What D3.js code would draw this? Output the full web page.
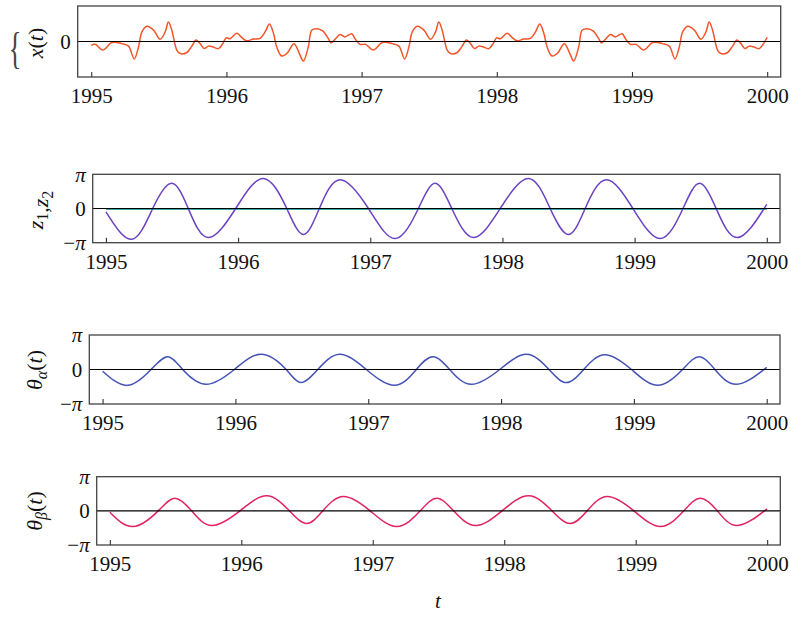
<!DOCTYPE html>
<html><head><meta charset="utf-8">
<script src="https://cdn.jsdelivr.net/npm/d3@7"></script>
<style>
body{margin:0;background:#fff}
svg{display:block}
</style>
</head><body>
<svg id="c" width="790" height="617" font-family="Liberation Serif"></svg>
<script>
// ---------- data ----------
const years = [1995, 1996, 1997, 1998, 1999, 2000];
const piTicks = [-1, 0, 1];          // in units of pi
const piTickLabels = ["−π", "0", "π"];

// x(t) signal
const xT = [
 1995.000,1995.030,1995.086,1995.153,1995.227,1995.276,1995.318,1995.350,1995.375,1995.412,1995.461,1995.510,1995.547,1995.571,1995.596,1995.633,1995.658,1995.707,1995.744,1995.776,1995.806,1995.835,1995.867,1995.897,1995.941,1995.973,1995.998,1996.027,1996.077,1996.114,1996.151,1996.200,1996.249,1996.286,1996.318,1996.348,1996.372,1996.409,1996.451,1996.500,1996.540,1996.569,1996.606,1996.631,1996.668,1996.712,1996.754,1996.774,1996.803,1996.840,1996.877,1996.927,1996.951,1996.988,
 1997.030,1997.086,1997.153,1997.227,1997.276,1997.318,1997.350,1997.375,1997.412,1997.461,1997.510,1997.547,1997.571,1997.596,1997.633,1997.658,1997.707,1997.744,1997.776,1997.806,1997.835,1997.867,1997.897,1997.941,1997.973,1997.998,1998.027,1998.077,1998.114,1998.151,1998.200,1998.249,1998.286,1998.318,1998.348,1998.372,1998.409,1998.451,1998.500,1998.540,1998.569,1998.606,1998.631,1998.668,1998.712,1998.754,1998.774,1998.803,1998.840,1998.877,1998.927,1998.951,1998.988,
 1999.030,1999.086,1999.153,1999.227,1999.276,1999.318,1999.350,1999.375,1999.412,1999.461,1999.510,1999.547,1999.571,1999.596,1999.633,1999.658,1999.707,1999.744,1999.776,1999.806,1999.835,1999.867,1999.897,1999.941,1999.973,2000.000
];
const xV = [
 -0.11,-0.08,-0.24,-0.03,-0.06,-0.13,-0.49,-0.15,0.27,0.43,0.32,0.06,0.27,0.55,0.32,-0.24,-0.34,-0.31,-0.13,0.04,-0.06,-0.20,-0.13,-0.15,-0.20,-0.06,0.10,0.08,0.23,0.11,0.02,0.07,0.09,0.27,0.49,0.23,-0.15,-0.41,-0.32,-0.06,-0.34,-0.55,-0.15,0.32,0.36,0.30,0.08,-0.04,0.06,0.20,0.13,0.22,0.08,-0.08,
 -0.08,-0.24,-0.03,-0.06,-0.13,-0.49,-0.15,0.27,0.43,0.32,0.06,0.27,0.55,0.32,-0.24,-0.34,-0.31,-0.13,0.04,-0.06,-0.20,-0.13,-0.15,-0.20,-0.06,0.10,0.08,0.23,0.11,0.02,0.07,0.09,0.27,0.49,0.23,-0.15,-0.41,-0.32,-0.06,-0.34,-0.55,-0.15,0.32,0.36,0.30,0.08,-0.04,0.06,0.20,0.13,0.22,0.08,-0.08,
 -0.08,-0.24,-0.03,-0.06,-0.13,-0.49,-0.15,0.27,0.43,0.32,0.06,0.27,0.55,0.32,-0.24,-0.34,-0.31,-0.13,0.04,-0.06,-0.20,-0.13,-0.15,-0.20,-0.06,0.12
];

// z1 (units of pi)
const zT = [1995.000,1995.195,1995.354,1995.497,1995.623,1995.774,1995.982,1996.191,1996.368,1996.494,1996.615,1996.771,1996.986,1997.188,1997.364,1997.491,1997.617,1997.780,1997.983,1998.197,1998.361,1998.500,1998.626,1998.785,1998.987,1999.194,1999.366,1999.491,1999.617,1999.778,2000.000];
const z1V = [-0.10,-0.90,0,0.735,0,-0.85,0,0.88,0,-0.76,0,0.84,0,-0.88,0,0.735,0,-0.85,0,0.88,0,-0.76,0,0.84,0,-0.88,0,0.735,0,-0.85,0.12];
// z2 (units of pi)
const z2T = [1995, 1996, 1997, 1998, 1999, 2000];
const z2V = [-0.025,-0.025,-0.025,-0.025,-0.025,-0.025];

// theta_alpha (units of pi)
const aT = [1995.000,1995.188,1995.365,1995.490,1995.603,1995.779,1995.992,1996.194,1996.382,1996.495,1996.620,1996.784,1996.985,1997.198,1997.362,1997.487,1997.613,1997.776,1997.990,1998.191,1998.361,1998.492,1998.622,1998.781,1998.982,1999.182,1999.366,1999.491,1999.610,1999.773,2000.000];
const aV = [-0.05,-0.46,0,0.37,0,-0.43,0,0.44,0,-0.38,0,0.44,0,-0.46,0,0.37,0,-0.43,0,0.44,0,-0.38,0,0.43,0,-0.46,0,0.37,0,-0.43,0.06];

// theta_beta (units of pi)
const bT = [1995.000,1995.177,1995.368,1995.495,1995.622,1995.775,1995.990,1996.193,1996.366,1996.498,1996.620,1996.777,1996.980,1997.183,1997.361,1997.488,1997.615,1997.780,1997.983,1998.186,1998.364,1998.503,1998.631,1998.783,1998.986,1999.189,1999.366,1999.493,1999.621,1999.773,2000.000];
const bV = [-0.04,-0.46,0,0.37,0,-0.43,0,0.44,0,-0.37,0,0.42,0,-0.46,0,0.37,0,-0.43,0,0.44,0,-0.37,0,0.42,0,-0.46,0,0.37,0,-0.43,0.06];

// ---------- drawing ----------
const svg = d3.select("#c");
const FONT = 21;
const SERIF = "Liberation Serif";

function panel(p) {
  const x = d3.scaleLinear().domain([1994.9, 2000.1]).range([p.left, p.right]);
  const y = d3.scaleLinear().domain(p.yDomain).range([p.bottom, p.top]);
  const g = svg.append("g");

  p.series.forEach(s => {
    const pts = s.t.map((t, i) => [t, s.v[i]]);
    g.append("path").datum(pts)
      .attr("fill", "none").attr("stroke", s.color).attr("stroke-width", s.w || 1.5)
      .attr("stroke-linejoin", "round")
      .attr("d", d3.line().x(d => x(d[0])).y(d => y(d[1])).curve(p.curve));
  });

  g.append("line").attr("x1", p.left).attr("x2", p.right)
    .attr("y1", y(0)).attr("y2", y(0)).attr("stroke", "#000").attr("stroke-width", 1.1);

  g.append("rect").attr("x", p.left).attr("y", p.top)
    .attr("width", p.right - p.left).attr("height", p.bottom - p.top)
    .attr("fill", "none").attr("stroke", "#444").attr("stroke-width", 1.3);

  const ax = g.append("g").attr("transform", `translate(0,${p.bottom})`)
    .call(d3.axisBottom(x).tickValues(years).tickFormat(d3.format("d"))
      .tickSizeInner(-5).tickSizeOuter(0).tickPadding(11));
  ax.attr("font-family", SERIF);
  ax.select(".domain").remove();
  ax.selectAll(".tick line").attr("stroke", "#333").attr("stroke-width", 1.1);
  ax.selectAll("text").attr("font-size", FONT).attr("fill", "#111");

  const ay = g.append("g").attr("transform", `translate(${p.left},0)`)
    .call(d3.axisLeft(y).tickValues(p.yTicks).tickFormat((d, i) => p.yLabels[i])
      .tickSize(0).tickPadding(7));
  ay.attr("font-family", SERIF);
  ay.select(".domain").remove();
  ay.selectAll("text").attr("font-size", FONT).attr("fill", "#111")
    .each(function () {
      const t = d3.select(this); const s = t.text();
      if (s.includes("π")) {
        t.text("");
        if (s.startsWith("−")) t.append("tspan").text("−");
        t.append("tspan").attr("font-style", "italic").text("π");
      }
    });

  const lab = svg.append("text")
    .attr("transform", `translate(${p.labX},${p.labY}) rotate(-90)`)
    .attr("text-anchor", "middle").attr("font-size", 22).attr("fill", "#111");
  p.label(lab);
}

function sub(t, s) { t.append("tspan").attr("font-size", 16).attr("dy", 5).text(s); t.append("tspan").attr("dy", -5).text(""); }

panel({
  left: 77.7, right: 780.7, top: 6, bottom: 77, yDomain: [-1, 1],
  yTicks: [0], yLabels: ["0"], curve: d3.curveCatmullRom.alpha(0.5),
  series: [{ t: xT, v: xV, color: "#f2552a", w: 1.5 }],
  labX: 43, labY: 43,
  label: t => {
    t.append("tspan").attr("font-style", "italic").text("x");
    t.append("tspan").text("(");
    t.append("tspan").attr("font-style", "italic").text("t");
    t.append("tspan").text(")");
  }
});

panel({
  left: 92.7, right: 780, top: 174.3, bottom: 242.7, yDomain: [-1, 1],
  yTicks: piTicks, yLabels: piTickLabels, curve: d3.curveNatural,
  series: [{ t: z2T, v: z2V, color: "#3aa9a4", w: 1.4 }, { t: zT, v: z1V, color: "#6a42c2", w: 1.5 }],
  labX: 43, labY: 210,
  label: t => {
    t.append("tspan").attr("font-style", "italic").text("z");
    sub(t, "1");
    t.append("tspan").text(",");
    t.append("tspan").attr("font-style", "italic").text("z");
    sub(t, "2");
  }
});

panel({
  left: 89.3, right: 780, top: 335, bottom: 404, yDomain: [-1, 1],
  yTicks: piTicks, yLabels: piTickLabels, curve: d3.curveNatural,
  series: [{ t: aT, v: aV, color: "#4453b5", w: 1.5 }],
  labX: 42, labY: 370,
  label: t => {
    t.append("tspan").attr("font-style", "italic").text("θ");
    t.append("tspan").attr("font-size", 16).attr("font-style", "italic").attr("dy", 5).text("α");
    t.append("tspan").attr("dy", -5).text("(");
    t.append("tspan").attr("font-style", "italic").text("t");
    t.append("tspan").text(")");
  }
});

panel({
  left: 96.7, right: 780.3, top: 476.7, bottom: 545, yDomain: [-1, 1],
  yTicks: piTicks, yLabels: piTickLabels, curve: d3.curveNatural,
  series: [{ t: bT, v: bV, color: "#e0245f", w: 1.5 }],
  labX: 42, labY: 511,
  label: t => {
    t.append("tspan").attr("font-style", "italic").text("θ");
    t.append("tspan").attr("font-size", 16).attr("font-style", "italic").attr("dy", 5).text("β");
    t.append("tspan").attr("dy", -5).text("(");
    t.append("tspan").attr("font-style", "italic").text("t");
    t.append("tspan").text(")");
  }
});

svg.append("text").attr("transform", "translate(15,63) scale(0.6,1)")
  .attr("text-anchor", "middle").attr("font-size", 44).attr("fill", "#444").text("{");

svg.append("text").attr("x", 438).attr("y", 608).attr("text-anchor", "middle")
  .attr("font-size", 21).attr("font-style", "italic").attr("fill", "#111").text("t");

svg.selectAll("text").attr("font-family", SERIF);
</script>
</body></html>
